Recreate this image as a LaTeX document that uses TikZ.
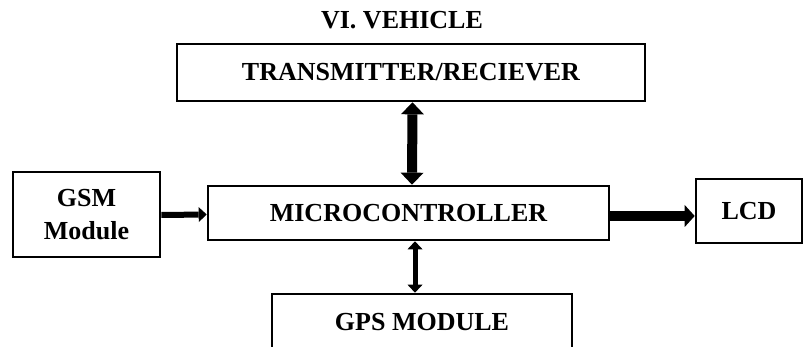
\documentclass[tikz,border=0pt]{standalone}
\usepackage{fontspec}
\setmainfont{Liberation Serif}
\usetikzlibrary{arrows.meta}
\tikzset{
    blk/.style={draw, line width=2.6pt, align=center, inner sep=0pt,
        font=\bfseries\fontsize{26}{33}\selectfont},
    bigtip/.tip={Triangle[width=23pt, length=12pt, line width=0pt]},
    smalltip/.tip={Triangle[width=15pt, length=8pt, line width=0pt]},
    lcdtip/.tip={Triangle[width=22pt, length=10pt, line width=0pt]},
}
\begin{document}
\begin{tikzpicture}[x=1pt, y=-1pt]
    \clip (0,0) rectangle (804,347);
    % 	\draw (0,0) rectangle (804,347);
        \node[font=\bfseries\fontsize{26}{30}\selectfont] (ttl) at (402,20) {VI. VEHICLE};
        \node[blk, minimum width=468pt, minimum height=57pt] (trx) at (411,72.5) {TRANSMITTER/RECIEVER};
        \node[blk, minimum width=401pt, minimum height=54pt] (mcu) at (408.5,213) {MICROCONTROLLER};
        \node[blk, minimum width=147pt, minimum height=85pt] (gsm) at (86.5,214.5) {GSM\\Module};
        \node[blk, minimum width=106pt, minimum height=64pt] (lcd) at (749,211) {LCD};
        \node[blk, minimum width=300pt, minimum height=56pt] (gps) at (422,322) {GPS MODULE};
        % links
        \draw [line width=10pt, bigtip-bigtip] ([xshift=1.5pt]trx.south) -- ([xshift=3.5pt]mcu.north);
        \draw [line width=5pt, smalltip-smalltip] ([xshift=6.5pt]mcu.south) -- ([xshift=-7pt]gps.north);
        \draw [line width=6pt, -smalltip] ([yshift=-0.5pt]gsm.east) -- (gsm.east -| mcu.west);
        \draw [line width=10pt, -lcdtip] ([yshift=-3pt]mcu.east) -- ([yshift=-3pt]mcu.east -| lcd.west);
    \end{tikzpicture}
\end{document}
